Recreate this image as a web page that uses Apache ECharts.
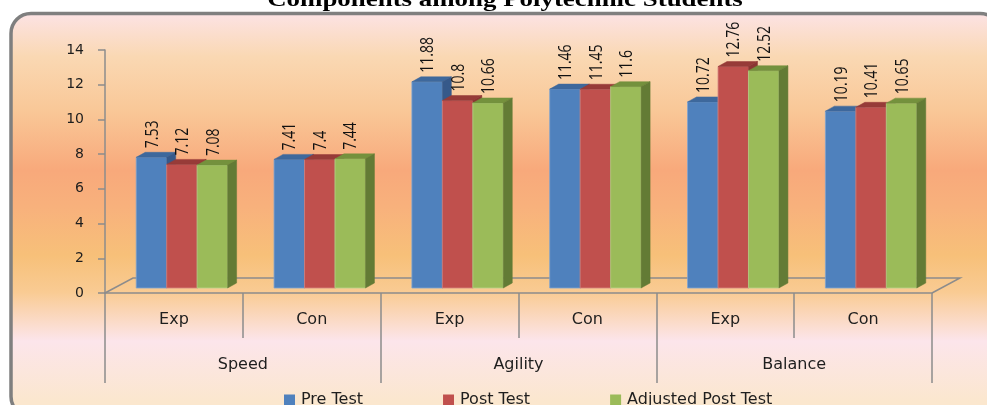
<!DOCTYPE html>
<html>
<head>
<meta charset="utf-8">
<script src="https://cdn.jsdelivr.net/npm/echarts@6/dist/echarts.min.js"></script>
<style>
  html, body { margin: 0; padding: 0; background: #ffffff; overflow: hidden; }
  #chart { width: 987px; height: 405px; }
</style>
</head>
<body>
<div id="chart"></div>
<script>
// Group / category labels
const groups = ['Speed', 'Agility', 'Balance'];
const categories = ['Exp', 'Con', 'Exp', 'Con', 'Exp', 'Con'];
const seriesNames = ['Pre Test', 'Post Test', 'Adjusted Post Test'];

// Mean scores per category
const preTest = [7.53, 7.41, 11.88, 11.46, 10.72, 10.19];
const postTest = [7.12, 7.4, 10.8, 11.45, 12.76, 10.41];
const adjustedPostTest = [7.08, 7.44, 10.66, 11.6, 12.52, 10.65];

// Value axis ticks
const yMin = 0, yMax = 14, yStep = 2;

// Face colours of the 3D columns: front, top, side
const palette = [
  { front: '#4F81BD', top: '#3E689C', side: '#36598A', edge: '#7FA3D0' },
  { front: '#C0504D', top: '#973B38', side: '#8B3533', edge: '#D58582' },
  { front: '#9BBB59', top: '#74913D', side: '#637B35', edge: '#BAD28A' }
];

// Layout of the plot box (front plane) and depth of the floor
const plotL = 105, plotR = 932, plotT = 50, plotB = 293;
const W = 987, H = 405;
const floorDx = 28, floorDy = 15;   // floor depth offset
const barShiftX = 8, barShiftY = 5; // columns stand a third of the way into the floor
const colDx = 9, colDy = 5;         // column depth

const chart = echarts.init(document.getElementById('chart'), null, { renderer: 'canvas', width: W, height: H });

const valueSets = [preTest, postTest, adjustedPostTest];

function makeRenderer(k) {
  const c = palette[k];
  return function (params, api) {
    const idx = api.value(0);
    const v = api.value(1);
    const pTop = api.coord([idx, v]);
    const pBase = api.coord([idx, 0]);
    const catW = api.size([1, 0])[0];
    const bw = catW * 0.221;
    const x0 = pTop[0] + (k - 1.5) * bw;
    const x1 = x0 + bw;
    const yT = pTop[1];
    const yB = pBase[1];
    return {
      type: 'group',
      children: [
        {
          type: 'rect',
          shape: { x: x0, y: yT, width: bw, height: yB - yT },
          style: { fill: c.front, stroke: c.edge, lineWidth: 0.8 }
        },
        {
          type: 'polygon',
          shape: { points: [[x0, yT], [x1, yT], [x1 + colDx, yT - colDy], [x0 + colDx, yT - colDy]] },
          style: { fill: c.top, stroke: c.top, lineWidth: 0.5 }
        },
        {
          type: 'polygon',
          shape: { points: [[x1, yT], [x1 + colDx, yT - colDy], [x1 + colDx, yB - colDy], [x1, yB]] },
          style: { fill: c.side, stroke: c.side, lineWidth: 0.5 }
        },
        {
          type: 'text',
          x: (x0 + x1) / 2 + 1,
          y: yT - 9,
          rotation: Math.PI / 2,
          scaleY: 1.3,
          style: {
            text: String(v),
            fill: '#111111',
            font: '14px "Open Sans"',
            align: 'left',
            verticalAlign: 'middle'
          }
        }
      ]
    };
  };
}

const series = valueSets.map(function (vals, k) {
  return {
    name: seriesNames[k],
    type: 'custom',
    xAxisIndex: 2,
    yAxisIndex: 1,
    itemStyle: { color: palette[k].front },
    renderItem: makeRenderer(k),
    encode: { x: 0, y: 1 },
    data: vals.map(function (v, i) { return [i, v]; }),
    z: 3 + k
  };
});

const axisGray = '#8C8C8C';
const labelFont = { fontFamily: 'DejaVu Sans', color: '#1E1E1E' };

const option = {
  animation: false,
  backgroundColor: 'transparent',
  graphic: [
    {
      type: 'text',
      x: 505,
      y: 11,
      scaleX: 1.28,
      z: -200,
      style: {
        text: 'Components among Polytechnic Students',
        font: 'bold 21px "Liberation Serif"',
        fill: '#000000',
        align: 'center',
        verticalAlign: 'bottom'
      }
    },
    {
      type: 'rect',
      z: -100,
      shape: { x: 11, y: 13.5, width: 989, height: 403, r: 20 },
      style: {
        fill: new echarts.graphic.LinearGradient(0, 0, 0, 1, [
          { offset: 0.00, color: '#FCE3E6' },
          { offset: 0.11, color: '#FAD8B3' },
          { offset: 0.24, color: '#F9C898' },
          { offset: 0.39, color: '#F8A97B' },
          { offset: 0.48, color: '#F8B17C' },
          { offset: 0.60, color: '#F7C079' },
          { offset: 0.69, color: '#F9CB93' },
          { offset: 0.81, color: '#FCE5EB' },
          { offset: 0.96, color: '#FBE7CE' },
          { offset: 1.00, color: '#FBE7CE' }
        ]),
        stroke: '#7F7F7F',
        lineWidth: 3.5
      }
    },
    {
      // floor outline of the 3D plot area
      type: 'polyline',
      z: 1,
      shape: {
        points: [
          [plotL, plotB],
          [plotL + floorDx, plotB - floorDy],
          [plotR + floorDx, plotB - floorDy],
          [plotR, plotB]
        ]
      },
      style: { stroke: axisGray, lineWidth: 1.5, fill: null }
    }
  ],
  legend: {
    data: seriesNames,
    left: 279,
    top: 387,
    icon: 'rect',
    itemWidth: 11,
    itemHeight: 11,
    itemGap: 80,
    textStyle: { fontFamily: 'DejaVu Sans', fontSize: 16, color: '#1E1E1E', padding: [0, 0, 0, 1] }
  },
  grid: [
    { left: plotL, right: W - plotR, top: plotT, bottom: H - plotB, containLabel: false },
    { left: plotL + barShiftX, right: W - plotR - barShiftX, top: plotT - barShiftY, bottom: H - plotB + barShiftY, containLabel: false }
  ],
  xAxis: [
    {
      gridIndex: 0,
      type: 'category',
      data: categories,
      position: 'bottom',
      boundaryGap: true,
      axisLine: { show: true, lineStyle: { color: axisGray, width: 1.5 } },
      axisTick: { show: true, interval: 0, length: 45, lineStyle: { color: axisGray, width: 1.5 } },
      axisLabel: Object.assign({ interval: 0, fontSize: 16, margin: 19 }, labelFont),
      splitLine: { show: false }
    },
    {
      gridIndex: 0,
      type: 'category',
      data: groups,
      position: 'bottom',
      offset: 0,
      boundaryGap: true,
      axisLine: { show: false },
      axisTick: { show: true, interval: 0, length: 90, lineStyle: { color: axisGray, width: 1.5 } },
      axisLabel: Object.assign({ interval: 0, fontSize: 16, margin: 64 }, labelFont),
      splitLine: { show: false }
    },
    {
      gridIndex: 1,
      type: 'category',
      data: categories,
      show: false
    }
  ],
  yAxis: [
    {
      gridIndex: 0,
      type: 'value',
      min: yMin,
      max: yMax,
      interval: yStep,
      axisLine: { show: true, lineStyle: { color: axisGray, width: 1.5 } },
      axisTick: { show: true, length: 7, lineStyle: { color: axisGray, width: 1.5 } },
      axisLabel: Object.assign({ fontSize: 14, margin: 21 }, labelFont),
      splitLine: { show: false }
    },
    {
      gridIndex: 1,
      type: 'value',
      min: yMin,
      max: yMax,
      interval: yStep,
      show: false,
      splitLine: { show: false }
    }
  ],
  series: series
};

chart.setOption(option);
</script>
</body>
</html>
